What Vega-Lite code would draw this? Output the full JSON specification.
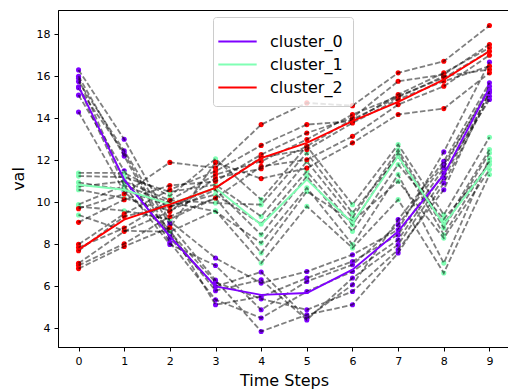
{
  "$schema": "https://vega.github.io/schema/vega-lite/v6.json",
  "width": 452,
  "height": 337,
  "autosize": "none",
  "padding": {"left": 58, "top": 10, "right": 0, "bottom": 43},
  "background": "white",
  "config": {
    "view": {"stroke": "black", "strokeWidth": 1},
    "axis": {
      "labelFont": "DejaVu Sans", "labelFontSize": 11, "labelColor": "black",
      "titleFont": "DejaVu Sans", "titleFontSize": 16, "titleFontWeight": "normal", "titleColor": "black",
      "tickColor": "black", "tickSize": 4, "domainColor": "black", "grid": false, "labelPadding": 4
    },
    "legend": {"labelFont": "DejaVu Sans", "labelFontSize": 16, "labelColor": "black"}
  },
  "datasets": {
    "series": [
      {"s":"P1","c":"cluster_0","t":0,"v":16.3},{"s":"P1","c":"cluster_0","t":1,"v":13.0},{"s":"P1","c":"cluster_0","t":2,"v":9.1},{"s":"P1","c":"cluster_0","t":3,"v":7.35},{"s":"P1","c":"cluster_0","t":4,"v":6.16},{"s":"P1","c":"cluster_0","t":5,"v":6.71},{"s":"P1","c":"cluster_0","t":6,"v":7.51},{"s":"P1","c":"cluster_0","t":7,"v":8.7},{"s":"P1","c":"cluster_0","t":8,"v":12.4},{"s":"P1","c":"cluster_0","t":9,"v":16.67},
      {"s":"P2","c":"cluster_0","t":0,"v":16.0},{"s":"P2","c":"cluster_0","t":1,"v":12.2},{"s":"P2","c":"cluster_0","t":2,"v":8.3},{"s":"P2","c":"cluster_0","t":3,"v":6.0},{"s":"P2","c":"cluster_0","t":4,"v":6.69},{"s":"P2","c":"cluster_0","t":5,"v":4.5},{"s":"P2","c":"cluster_0","t":6,"v":6.08},{"s":"P2","c":"cluster_0","t":7,"v":9.18},{"s":"P2","c":"cluster_0","t":8,"v":11.95},{"s":"P2","c":"cluster_0","t":9,"v":15.69},
      {"s":"P3","c":"cluster_0","t":0,"v":15.9},{"s":"P3","c":"cluster_0","t":1,"v":11.0},{"s":"P3","c":"cluster_0","t":2,"v":8.7},{"s":"P3","c":"cluster_0","t":3,"v":5.13},{"s":"P3","c":"cluster_0","t":4,"v":5.52},{"s":"P3","c":"cluster_0","t":5,"v":6.4},{"s":"P3","c":"cluster_0","t":6,"v":7.19},{"s":"P3","c":"cluster_0","t":7,"v":8.46},{"s":"P3","c":"cluster_0","t":8,"v":11.64},{"s":"P3","c":"cluster_0","t":9,"v":15.52},
      {"s":"P4","c":"cluster_0","t":0,"v":15.75},{"s":"P4","c":"cluster_0","t":1,"v":12.45},{"s":"P4","c":"cluster_0","t":2,"v":8.94},{"s":"P4","c":"cluster_0","t":3,"v":6.3},{"s":"P4","c":"cluster_0","t":4,"v":3.86},{"s":"P4","c":"cluster_0","t":5,"v":4.65},{"s":"P4","c":"cluster_0","t":6,"v":5.13},{"s":"P4","c":"cluster_0","t":7,"v":7.59},{"s":"P4","c":"cluster_0","t":8,"v":10.92},{"s":"P4","c":"cluster_0","t":9,"v":15.05},
      {"s":"P5","c":"cluster_0","t":0,"v":15.5},{"s":"P5","c":"cluster_0","t":1,"v":10.8},{"s":"P5","c":"cluster_0","t":2,"v":8.0},{"s":"P5","c":"cluster_0","t":3,"v":7.0},{"s":"P5","c":"cluster_0","t":4,"v":4.89},{"s":"P5","c":"cluster_0","t":5,"v":6.24},{"s":"P5","c":"cluster_0","t":6,"v":7.03},{"s":"P5","c":"cluster_0","t":7,"v":8.94},{"s":"P5","c":"cluster_0","t":8,"v":11.8},{"s":"P5","c":"cluster_0","t":9,"v":15.37},
      {"s":"P6","c":"cluster_0","t":0,"v":15.45},{"s":"P6","c":"cluster_0","t":1,"v":12.35},{"s":"P6","c":"cluster_0","t":2,"v":8.5},{"s":"P6","c":"cluster_0","t":3,"v":5.8},{"s":"P6","c":"cluster_0","t":4,"v":6.32},{"s":"P6","c":"cluster_0","t":5,"v":4.41},{"s":"P6","c":"cluster_0","t":6,"v":6.4},{"s":"P6","c":"cluster_0","t":7,"v":7.99},{"s":"P6","c":"cluster_0","t":8,"v":11.16},{"s":"P6","c":"cluster_0","t":9,"v":15.21},
      {"s":"P7","c":"cluster_0","t":0,"v":15.1},{"s":"P7","c":"cluster_0","t":1,"v":11.5},{"s":"P7","c":"cluster_0","t":2,"v":8.1},{"s":"P7","c":"cluster_0","t":3,"v":5.37},{"s":"P7","c":"cluster_0","t":4,"v":4.5},{"s":"P7","c":"cluster_0","t":5,"v":5.76},{"s":"P7","c":"cluster_0","t":6,"v":6.71},{"s":"P7","c":"cluster_0","t":7,"v":8.22},{"s":"P7","c":"cluster_0","t":8,"v":11.4},{"s":"P7","c":"cluster_0","t":9,"v":14.89},
      {"s":"P8","c":"cluster_0","t":0,"v":14.3},{"s":"P8","c":"cluster_0","t":1,"v":10.5},{"s":"P8","c":"cluster_0","t":2,"v":8.6},{"s":"P8","c":"cluster_0","t":3,"v":6.2},{"s":"P8","c":"cluster_0","t":4,"v":5.41},{"s":"P8","c":"cluster_0","t":5,"v":4.89},{"s":"P8","c":"cluster_0","t":6,"v":5.76},{"s":"P8","c":"cluster_0","t":7,"v":7.75},{"s":"P8","c":"cluster_0","t":8,"v":10.6},{"s":"P8","c":"cluster_0","t":9,"v":15.3},
      {"s":"G1","c":"cluster_1","t":0,"v":11.4},{"s":"G1","c":"cluster_1","t":1,"v":11.4},{"s":"G1","c":"cluster_1","t":2,"v":10.3},{"s":"G1","c":"cluster_1","t":3,"v":12.07},{"s":"G1","c":"cluster_1","t":4,"v":10.13},{"s":"G1","c":"cluster_1","t":5,"v":12.67},{"s":"G1","c":"cluster_1","t":6,"v":9.89},{"s":"G1","c":"cluster_1","t":7,"v":12.75},{"s":"G1","c":"cluster_1","t":8,"v":9.41},{"s":"G1","c":"cluster_1","t":9,"v":13.1},
      {"s":"G2","c":"cluster_1","t":0,"v":11.25},{"s":"G2","c":"cluster_1","t":1,"v":11.2},{"s":"G2","c":"cluster_1","t":2,"v":10.5},{"s":"G2","c":"cluster_1","t":3,"v":10.84},{"s":"G2","c":"cluster_1","t":4,"v":9.33},{"s":"G2","c":"cluster_1","t":5,"v":11.95},{"s":"G2","c":"cluster_1","t":6,"v":9.26},{"s":"G2","c":"cluster_1","t":7,"v":12.5},{"s":"G2","c":"cluster_1","t":8,"v":8.94},{"s":"G2","c":"cluster_1","t":9,"v":12.51},
      {"s":"G3","c":"cluster_1","t":0,"v":10.95},{"s":"G3","c":"cluster_1","t":1,"v":10.6},{"s":"G3","c":"cluster_1","t":2,"v":9.8},{"s":"G3","c":"cluster_1","t":3,"v":10.37},{"s":"G3","c":"cluster_1","t":4,"v":8.97},{"s":"G3","c":"cluster_1","t":5,"v":11.48},{"s":"G3","c":"cluster_1","t":6,"v":8.94},{"s":"G3","c":"cluster_1","t":7,"v":12.35},{"s":"G3","c":"cluster_1","t":8,"v":8.78},{"s":"G3","c":"cluster_1","t":9,"v":12.35},
      {"s":"G4","c":"cluster_1","t":0,"v":10.75},{"s":"G4","c":"cluster_1","t":1,"v":11.0},{"s":"G4","c":"cluster_1","t":2,"v":10.1},{"s":"G4","c":"cluster_1","t":3,"v":9.97},{"s":"G4","c":"cluster_1","t":4,"v":9.89},{"s":"G4","c":"cluster_1","t":5,"v":12.35},{"s":"G4","c":"cluster_1","t":6,"v":9.5},{"s":"G4","c":"cluster_1","t":7,"v":12.19},{"s":"G4","c":"cluster_1","t":8,"v":8.46},{"s":"G4","c":"cluster_1","t":9,"v":11.95},
      {"s":"G5","c":"cluster_1","t":0,"v":10.6},{"s":"G5","c":"cluster_1","t":1,"v":10.2},{"s":"G5","c":"cluster_1","t":2,"v":9.6},{"s":"G5","c":"cluster_1","t":3,"v":10.6},{"s":"G5","c":"cluster_1","t":4,"v":8.46},{"s":"G5","c":"cluster_1","t":5,"v":11.24},{"s":"G5","c":"cluster_1","t":6,"v":8.62},{"s":"G5","c":"cluster_1","t":7,"v":11.8},{"s":"G5","c":"cluster_1","t":8,"v":9.2},{"s":"G5","c":"cluster_1","t":9,"v":11.8},
      {"s":"G6","c":"cluster_1","t":0,"v":9.9},{"s":"G6","c":"cluster_1","t":1,"v":10.8},{"s":"G6","c":"cluster_1","t":2,"v":10.0},{"s":"G6","c":"cluster_1","t":3,"v":9.57},{"s":"G6","c":"cluster_1","t":4,"v":8.07},{"s":"G6","c":"cluster_1","t":5,"v":10.69},{"s":"G6","c":"cluster_1","t":6,"v":7.99},{"s":"G6","c":"cluster_1","t":7,"v":11.32},{"s":"G6","c":"cluster_1","t":8,"v":7.11},{"s":"G6","c":"cluster_1","t":9,"v":12.1},
      {"s":"G7","c":"cluster_1","t":0,"v":9.8},{"s":"G7","c":"cluster_1","t":1,"v":9.6},{"s":"G7","c":"cluster_1","t":2,"v":9.2},{"s":"G7","c":"cluster_1","t":3,"v":10.2},{"s":"G7","c":"cluster_1","t":4,"v":7.59},{"s":"G7","c":"cluster_1","t":5,"v":10.52},{"s":"G7","c":"cluster_1","t":6,"v":9.1},{"s":"G7","c":"cluster_1","t":7,"v":11.0},{"s":"G7","c":"cluster_1","t":8,"v":8.3},{"s":"G7","c":"cluster_1","t":9,"v":11.56},
      {"s":"G8","c":"cluster_1","t":0,"v":9.4},{"s":"G8","c":"cluster_1","t":1,"v":8.65},{"s":"G8","c":"cluster_1","t":2,"v":8.6},{"s":"G8","c":"cluster_1","t":3,"v":9.6},{"s":"G8","c":"cluster_1","t":4,"v":7.11},{"s":"G8","c":"cluster_1","t":5,"v":9.81},{"s":"G8","c":"cluster_1","t":6,"v":7.83},{"s":"G8","c":"cluster_1","t":7,"v":10.13},{"s":"G8","c":"cluster_1","t":8,"v":6.64},{"s":"G8","c":"cluster_1","t":9,"v":11.32},
      {"s":"R1","c":"cluster_2","t":0,"v":9.7},{"s":"R1","c":"cluster_2","t":1,"v":10.4},{"s":"R1","c":"cluster_2","t":2,"v":11.9},{"s":"R1","c":"cluster_2","t":3,"v":11.64},{"s":"R1","c":"cluster_2","t":4,"v":13.7},{"s":"R1","c":"cluster_2","t":5,"v":14.73},{"s":"R1","c":"cluster_2","t":6,"v":14.6},{"s":"R1","c":"cluster_2","t":7,"v":16.16},{"s":"R1","c":"cluster_2","t":8,"v":16.71},{"s":"R1","c":"cluster_2","t":9,"v":18.41},
      {"s":"R2","c":"cluster_2","t":0,"v":9.05},{"s":"R2","c":"cluster_2","t":1,"v":10.13},{"s":"R2","c":"cluster_2","t":2,"v":10.8},{"s":"R2","c":"cluster_2","t":3,"v":11.0},{"s":"R2","c":"cluster_2","t":4,"v":12.27},{"s":"R2","c":"cluster_2","t":5,"v":13.3},{"s":"R2","c":"cluster_2","t":6,"v":14.02},{"s":"R2","c":"cluster_2","t":7,"v":15.76},{"s":"R2","c":"cluster_2","t":8,"v":16.08},{"s":"R2","c":"cluster_2","t":9,"v":17.51},
      {"s":"R3","c":"cluster_2","t":0,"v":8.0},{"s":"R3","c":"cluster_2","t":1,"v":9.45},{"s":"R3","c":"cluster_2","t":2,"v":10.6},{"s":"R3","c":"cluster_2","t":3,"v":11.48},{"s":"R3","c":"cluster_2","t":4,"v":12.71},{"s":"R3","c":"cluster_2","t":5,"v":13.7},{"s":"R3","c":"cluster_2","t":6,"v":13.86},{"s":"R3","c":"cluster_2","t":7,"v":15.13},{"s":"R3","c":"cluster_2","t":8,"v":16.16},{"s":"R3","c":"cluster_2","t":9,"v":17.35},
      {"s":"R4","c":"cluster_2","t":0,"v":7.85},{"s":"R4","c":"cluster_2","t":1,"v":8.78},{"s":"R4","c":"cluster_2","t":2,"v":10.1},{"s":"R4","c":"cluster_2","t":3,"v":11.32},{"s":"R4","c":"cluster_2","t":4,"v":11.95},{"s":"R4","c":"cluster_2","t":5,"v":12.99},{"s":"R4","c":"cluster_2","t":6,"v":14.18},{"s":"R4","c":"cluster_2","t":7,"v":15.05},{"s":"R4","c":"cluster_2","t":8,"v":15.92},{"s":"R4","c":"cluster_2","t":9,"v":17.19},
      {"s":"R5","c":"cluster_2","t":0,"v":7.7},{"s":"R5","c":"cluster_2","t":1,"v":9.33},{"s":"R5","c":"cluster_2","t":2,"v":9.8},{"s":"R5","c":"cluster_2","t":3,"v":10.69},{"s":"R5","c":"cluster_2","t":4,"v":12.14},{"s":"R5","c":"cluster_2","t":5,"v":12.51},{"s":"R5","c":"cluster_2","t":6,"v":13.78},{"s":"R5","c":"cluster_2","t":7,"v":14.9},{"s":"R5","c":"cluster_2","t":8,"v":15.76},{"s":"R5","c":"cluster_2","t":9,"v":16.48},
      {"s":"R6","c":"cluster_2","t":0,"v":7.1},{"s":"R6","c":"cluster_2","t":1,"v":8.62},{"s":"R6","c":"cluster_2","t":2,"v":9.57},{"s":"R6","c":"cluster_2","t":3,"v":11.16},{"s":"R6","c":"cluster_2","t":4,"v":11.6},{"s":"R6","c":"cluster_2","t":5,"v":12.67},{"s":"R6","c":"cluster_2","t":6,"v":13.95},{"s":"R6","c":"cluster_2","t":7,"v":15.0},{"s":"R6","c":"cluster_2","t":8,"v":16.0},{"s":"R6","c":"cluster_2","t":9,"v":16.32},
      {"s":"R7","c":"cluster_2","t":0,"v":7.0},{"s":"R7","c":"cluster_2","t":1,"v":8.03},{"s":"R7","c":"cluster_2","t":2,"v":9.33},{"s":"R7","c":"cluster_2","t":3,"v":10.21},{"s":"R7","c":"cluster_2","t":4,"v":11.71},{"s":"R7","c":"cluster_2","t":5,"v":12.03},{"s":"R7","c":"cluster_2","t":6,"v":13.14},{"s":"R7","c":"cluster_2","t":7,"v":14.65},{"s":"R7","c":"cluster_2","t":8,"v":15.52},{"s":"R7","c":"cluster_2","t":9,"v":17.0},
      {"s":"R8","c":"cluster_2","t":0,"v":6.85},{"s":"R8","c":"cluster_2","t":1,"v":7.9},{"s":"R8","c":"cluster_2","t":2,"v":8.8},{"s":"R8","c":"cluster_2","t":3,"v":11.9},{"s":"R8","c":"cluster_2","t":4,"v":11.13},{"s":"R8","c":"cluster_2","t":5,"v":11.63},{"s":"R8","c":"cluster_2","t":6,"v":12.83},{"s":"R8","c":"cluster_2","t":7,"v":14.18},{"s":"R8","c":"cluster_2","t":8,"v":14.46},{"s":"R8","c":"cluster_2","t":9,"v":16.16}
    ],
    "centroids": [
      {"c":"cluster_0","t":0,"v":15.52},{"c":"cluster_0","t":1,"v":11.08},{"c":"cluster_0","t":2,"v":8.38},{"c":"cluster_0","t":3,"v":6.0},{"c":"cluster_0","t":4,"v":5.6},{"c":"cluster_0","t":5,"v":5.69},{"c":"cluster_0","t":6,"v":6.8},{"c":"cluster_0","t":7,"v":8.62},{"c":"cluster_0","t":8,"v":11.32},{"c":"cluster_0","t":9,"v":15.45},
      {"c":"cluster_1","t":0,"v":10.84},{"c":"cluster_1","t":1,"v":10.6},{"c":"cluster_1","t":2,"v":9.92},{"c":"cluster_1","t":3,"v":10.69},{"c":"cluster_1","t":4,"v":8.94},{"c":"cluster_1","t":5,"v":11.08},{"c":"cluster_1","t":6,"v":9.02},{"c":"cluster_1","t":7,"v":12.19},{"c":"cluster_1","t":8,"v":8.94},{"c":"cluster_1","t":9,"v":11.8},
      {"c":"cluster_2","t":0,"v":7.75},{"c":"cluster_2","t":1,"v":9.18},{"c":"cluster_2","t":2,"v":9.9},{"c":"cluster_2","t":3,"v":10.69},{"c":"cluster_2","t":4,"v":12.1},{"c":"cluster_2","t":5,"v":12.83},{"c":"cluster_2","t":6,"v":13.86},{"c":"cluster_2","t":7,"v":14.78},{"c":"cluster_2","t":8,"v":15.84},{"c":"cluster_2","t":9,"v":17.19}
    ]
  },
  "encoding": {
    "x": {"field": "t", "type": "quantitative", "title": "Time Steps",
          "scale": {"domain": [-0.45, 9.45], "nice": false, "zero": false},
          "axis": {"values": [0,1,2,3,4,5,6,7,8,9], "format": "d", "titlePadding": 6}},
    "y": {"field": "v", "type": "quantitative", "title": "val",
          "scale": {"domain": [3.12, 19.15], "nice": false, "zero": false},
          "axis": {"values": [4,6,8,10,12,14,16,18], "format": "d", "titlePadding": 10}}
  },
  "layer": [
    {
      "data": {"name": "series"},
      "mark": {"type": "circle", "size": 26, "opacity": 1},
      "encoding": {
        "color": {"field": "c", "type": "nominal",
                  "scale": {"domain": ["cluster_0","cluster_1","cluster_2"], "range": ["#7f00ff","#80ffb4","#ff0000"]}}
      }
    },
    {
      "data": {"name": "series"},
      "mark": {"type": "line", "color": "black", "opacity": 0.5, "strokeWidth": 1.8, "strokeDash": [5.5, 2.4]},
      "encoding": {"detail": {"field": "s", "type": "nominal"}}
    },
    {
      "data": {"name": "centroids"},
      "mark": {"type": "line", "strokeWidth": 1.9},
      "encoding": {
        "color": {"field": "c", "type": "nominal",
                  "legend": {"title": null, "orient": "none", "legendX": 155, "legendY": 7,
                             "symbolType": "M-1.45,0H1.45", "symbolSize": 700, "symbolStrokeWidth": 2,
                             "labelOffset": 18, "rowPadding": 0, "padding": 10,
                             "fillColor": "rgba(255,255,255,0.8)", "strokeColor": "#cccccc", "cornerRadius": 3}}
      }
    }
  ]
}
